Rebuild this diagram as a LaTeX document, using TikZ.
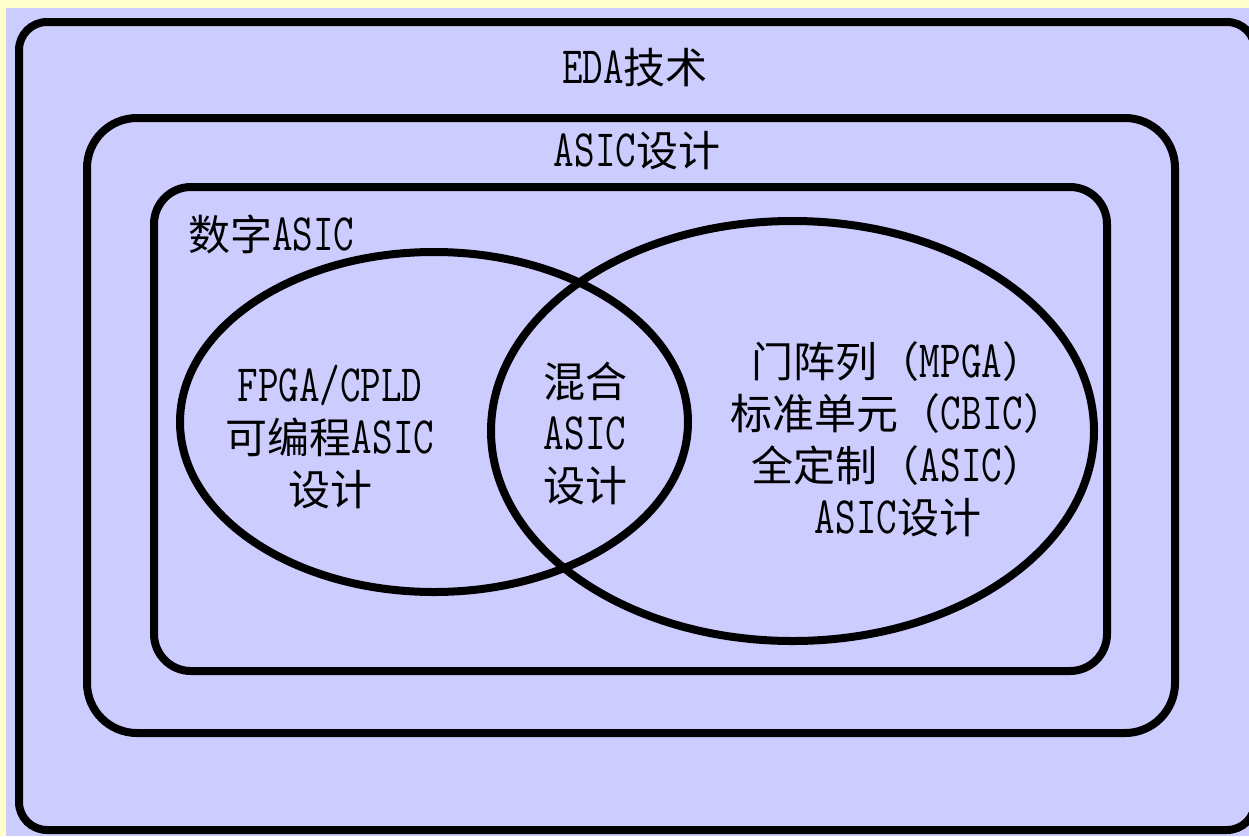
\documentclass[tikz,border=0pt]{standalone}
\usepackage{fontspec}
\setmainfont{Latin Modern Mono}[Scale=1.25,FakeStretch=0.76]
\newfontfamily\cjk{Noto Sans CJK SC}
\newcommand\zh[1]{{\cjk #1}}
\definecolor{yellowbg}{HTML}{FFFFCC}
\definecolor{lav}{HTML}{CCCCFF}
\begin{document}
\begin{tikzpicture}[x=1pt,y=-1pt,
  box/.style={draw=black,line width=8pt},
  ell/.style={draw=black,line width=8pt},
  lbl/.style={font=\fontsize{42}{52}\selectfont,align=center,inner sep=0pt,text=black}]
\useasboundingbox (0,0) rectangle (1249,836);
\clip (0,0) rectangle (1249,836);
\fill[yellowbg] (0,0) rectangle (1249,836);
\fill[lav] (6,8) rectangle (1249,836);
\draw[box,rounded corners=28pt] (19,22) rectangle (1255,830);
\draw[box,rounded corners=50pt] (87,118) rectangle (1175,733);
\draw[box,rounded corners=37pt] (154,187) rectangle (1107,671);
\draw[ell] (434,422) ellipse [x radius=254,y radius=170];
\draw[ell] (792.5,431) ellipse [x radius=301.5,y radius=210];
\node[lbl] (eda) at (635,68) {EDA\zh{技术}};
\node[lbl] (asic) at (637,151) {ASIC\zh{设计}};
\node[lbl,anchor=west] (dig) at (188,234) {\zh{数字}ASIC};
\node[lbl] (fpga) at (330,437) {FPGA/CPLD\\\zh{可编程}ASIC\\\zh{设计}};
\node[lbl] (mix) at (585,434) {\zh{混合}\\ASIC\\\zh{设计}};
\node[lbl] (std) at (898,439) {\zh{门阵列（}MPGA\zh{）}\\\zh{标准单元（}CBIC\zh{）}\\\zh{全定制（}ASIC\zh{）}\\ASIC\zh{设计}};
\end{tikzpicture}
\end{document}
